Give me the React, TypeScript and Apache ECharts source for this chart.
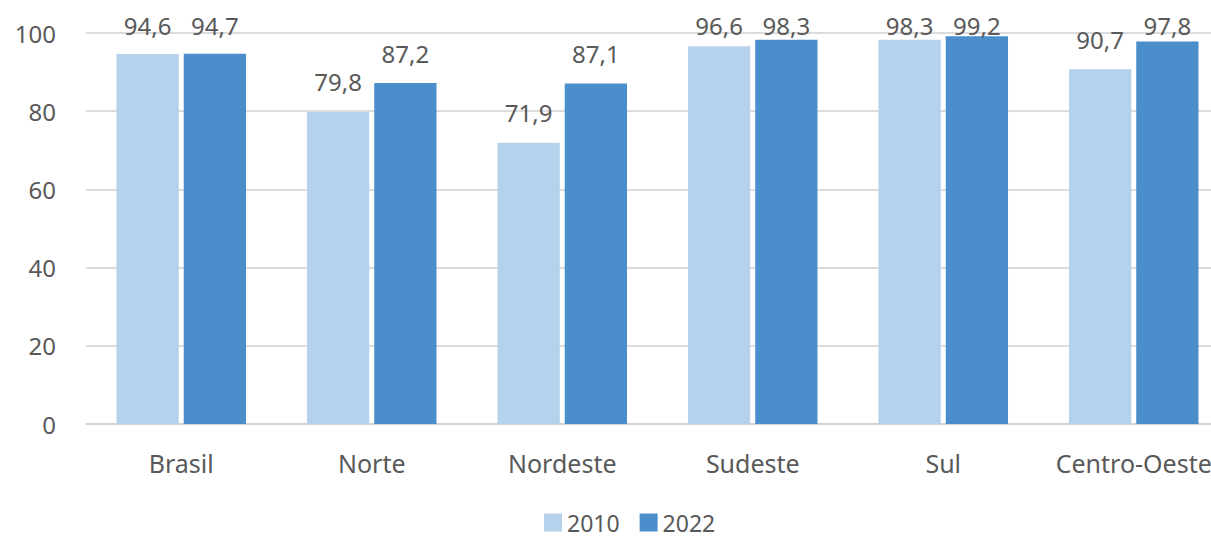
import React, { useEffect, useRef } from "react";
import * as echarts from "echarts";

const categories = ["Brasil", "Norte", "Nordeste", "Sudeste", "Sul", "Centro-Oeste"];
const values2010 = [94.6, 79.8, 71.9, 96.6, 98.3, 90.7];
const values2022 = [94.7, 87.2, 87.1, 98.3, 99.2, 97.8];
const yTicks = [0, 20, 40, 60, 80, 100];

const FONT = "'Noto Sans', sans-serif";
const TEXT = "#595959";

export default function App() {
  const ref = useRef<HTMLDivElement>(null);
  useEffect(() => {
    if (!ref.current) return;
    const chart = echarts.init(ref.current, undefined, { renderer: "svg" });
    const fmt = (p: any) => String(p.value).replace(".", ",");
    const labelStyle = {
      show: true,
      position: "top",
      distance: 18,
      color: TEXT,
      fontFamily: FONT,
      fontSize: 24,
      formatter: fmt,
    };
    chart.setOption({
      animation: false,
      backgroundColor: "#ffffff",
      textStyle: { fontFamily: FONT },
      grid: { left: 86, right: 0, top: 33, bottom: 114, containLabel: false },
      legend: {
        left: 539,
        top: 506,
        itemWidth: 18,
        itemHeight: 18,
        itemGap: 20,
        icon: "rect",
        textStyle: { fontFamily: FONT, fontSize: 23, color: TEXT },
        data: ["2010", "2022"],
      },
      xAxis: {
        type: "category",
        data: categories,
        axisLine: { show: true, lineStyle: { color: "#d0d0d0", width: 1.5 } },
        axisTick: { show: false },
        axisLabel: { color: TEXT, fontFamily: FONT, fontSize: 25, margin: 26, interval: 0 },
      },
      yAxis: {
        type: "value",
        min: yTicks[0],
        max: yTicks[yTicks.length - 1],
        interval: 20,
        axisLine: { show: false },
        axisTick: { show: false },
        splitLine: { lineStyle: { color: "#d0d0d0", width: 1.5 } },
        axisLabel: { color: TEXT, fontFamily: FONT, fontSize: 24, margin: 30 },
      },
      labelLayout: (p: any) => {
        const r = p.labelRect;
        return {
          x: r.x + r.width / 2,
          y: Math.max(r.y, 13),
          align: "center",
          verticalAlign: "top",
        };
      },
      series: [
        {
          name: "2010",
          type: "bar",
          data: values2010,
          itemStyle: { color: "#B5D1EB" },
          barGap: "8%",
          barCategoryGap: "32%",
          label: labelStyle,
        },
        {
          name: "2022",
          type: "bar",
          data: values2022,
          itemStyle: { color: "#4A8FCC" },
          barGap: "8%",
          barCategoryGap: "32%",
          label: labelStyle,
        },
      ],
    });
    return () => chart.dispose();
  }, []);
  return (
    <div style={{ position: "fixed", left: 0, top: 0, width: 1211, height: 538, overflow: "hidden", background: "#fff" }}>
      <div ref={ref} style={{ width: 1229, height: 538 }} />
    </div>
  );
}
